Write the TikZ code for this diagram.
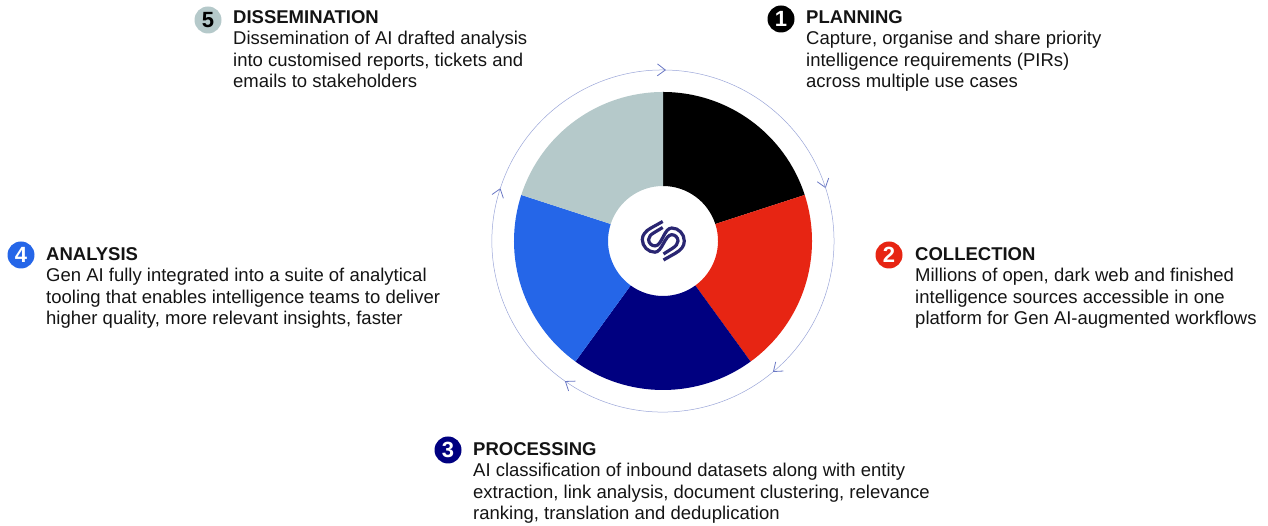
\documentclass[tikz,border=0pt]{standalone}
\usepackage{fontspec}
\setmainfont{Liberation Sans}
\usetikzlibrary{arrows.meta,calc}
\definecolor{cgrey}{HTML}{B5C9CA}
\definecolor{cred}{HTML}{E72513}
\definecolor{cnavy}{HTML}{000080}
\definecolor{cblue}{HTML}{2566E8}
\definecolor{cline}{HTML}{9AA5D8}
\definecolor{chead}{HTML}{6A78C4}
\definecolor{clogo}{HTML}{2A2672}
\definecolor{ctext}{HTML}{141414}
\tikzset{
  x=1pt,y=1pt,
  blurb/.style={anchor=north west,inner sep=0pt,align=left,text=ctext,font=\fontsize{18.5}{21.6}\selectfont},
  badge/.style={circle,minimum size=27pt,inner sep=0pt,font=\fontsize{22}{22}\selectfont\bfseries,text=white},
  ringarc/.style={draw=cline,line width=0.5pt,-{Straight Barb[length=8pt,width=12pt,line width=0.8pt,color=chead]}},
  logoline/.style={draw=clogo,line width=3.2pt,line cap=butt},
}
\begin{document}
\begin{tikzpicture}
\useasboundingbox (0,0) rectangle (1268,526);
\coordinate (hub) at (663,285);
\fill[black] ($(hub)+(90:149pt)$) arc[start angle=90,end angle=18,radius=149pt] -- ($(hub)+(18:55pt)$) arc[start angle=18,end angle=90,radius=55pt] -- cycle;
\fill[cred] ($(hub)+(18:149pt)$) arc[start angle=18,end angle=-54,radius=149pt] -- ($(hub)+(-54:55pt)$) arc[start angle=-54,end angle=18,radius=55pt] -- cycle;
\fill[cnavy] ($(hub)+(-54:149pt)$) arc[start angle=-54,end angle=-126,radius=149pt] -- ($(hub)+(-126:55pt)$) arc[start angle=-126,end angle=-54,radius=55pt] -- cycle;
\fill[cblue] ($(hub)+(-126:149pt)$) arc[start angle=-126,end angle=-198,radius=149pt] -- ($(hub)+(162:55pt)$) arc[start angle=162,end angle=234,radius=55pt] -- cycle;
\fill[cgrey] ($(hub)+(162:149pt)$) arc[start angle=162,end angle=90,radius=149pt] -- ($(hub)+(90:55pt)$) arc[start angle=90,end angle=162,radius=55pt] -- cycle;
% ring
\draw[ringarc] ($(hub)+(90:171pt)$) arc[start angle=90,end angle=18,radius=171pt];
\draw[ringarc] ($(hub)+(19:171pt)$) arc[start angle=19,end angle=-50,radius=171pt];
\draw[ringarc] ($(hub)+(-50:171pt)$) arc[start angle=-50,end angle=-125,radius=171pt];
\draw[ringarc] ($(hub)+(-125:171pt)$) arc[start angle=-125,end angle=-198,radius=171pt];
\draw[ringarc] ($(hub)+(162:171pt)$) arc[start angle=162,end angle=89,radius=171pt];
% logo
\begin{scope}[yshift=526pt,y=-1pt]
\draw[logoline] (662.7,221.5) -- (651,228) .. controls (645.5,231) and (642.3,235) .. (642.3,239.5) .. controls (642.3,246.5) and (648,252.2) .. (655,252.2) .. controls (662,252.2) and (665,234.7) .. (671.7,234.7) .. controls (675.2,234.7) and (678,237.5) .. (678,241) .. controls (678,244) and (675.5,246.3) .. (672.5,248.3) -- (663.5,254);
\draw[logoline] (662.7,227.5) -- (654,232.7) .. controls (651,234.5) and (648.6,236.5) .. (648.6,239.5) .. controls (648.6,243) and (651.5,245.9) .. (655,245.9) .. controls (662,245.9) and (664,228) .. (671.7,228) .. controls (678.7,228) and (684.3,234) .. (684.3,241) .. controls (684.3,246.5) and (681,250) .. (675,253.5) -- (663.5,260);
\end{scope}
% text
\node[badge,fill=black] (b1) at (781,507) {1};
\node[blurb] (t1) at (806,516) {\textbf{PLANNING}\\Capture, organise and share priority\\intelligence requirements (PIRs)\\across multiple use cases};
\node[badge,fill=cred] (b2) at (889,271) {2};
\node[blurb] (t2) at (915,279) {\textbf{COLLECTION}\\Millions of open, dark web and finished\\intelligence sources accessible in one\\platform for Gen AI-augmented workflows};
\node[badge,fill=cnavy] (b3) at (448,76) {3};
\node[blurb] (t3) at (473,84) {\textbf{PROCESSING}\\AI classification of inbound datasets along with entity\\extraction, link analysis, document clustering, relevance\\ranking, translation and deduplication};
\node[badge,fill=cblue] (b4) at (21,271) {4};
\node[blurb] (t4) at (46,279) {\textbf{ANALYSIS}\\Gen AI fully integrated into a suite of analytical\\tooling that enables intelligence teams to deliver\\higher quality, more relevant insights, faster};
\node[badge,fill=cgrey,text=black] (b5) at (208,506) {5};
\node[blurb] (t5) at (233,516) {\textbf{DISSEMINATION}\\Dissemination of AI drafted analysis\\into customised reports, tickets and\\emails to stakeholders};
\end{tikzpicture}
\end{document}
